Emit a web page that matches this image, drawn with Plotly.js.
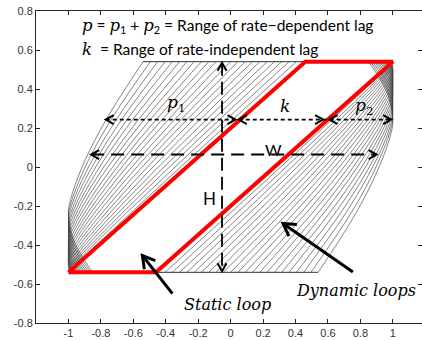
<!DOCTYPE html>
<html><head><meta charset="utf-8">
<script src="https://cdn.plot.ly/plotly-3.0.1.min.js"></script>
<style>html,body{margin:0;padding:0;background:#fff}#chart{width:422px;height:341px}</style>
</head><body><div id="chart"></div>
<script>
// tick labels
const xTickVals = [-1,-0.8,-0.6,-0.4,-0.2,0,0.2,0.4,0.6,0.8,1];
const xTickText = ['-1','-0.8','-0.6','-0.4','-0.2','0','0.2','0.4','0.6','0.8','1'];
const yTickVals = [-0.8,-0.6,-0.4,-0.2,0,0.2,0.4,0.6,0.8];
const yTickText = ['-0.8','-0.6','-0.4','-0.2','0','0.2','0.4','0.6','0.8'];

// static loop (red parallelogram)
const staticX = [-1, -0.46, 1, 0.46, -1];
const staticY = [-0.54, -0.54, 0.54, 0.54, -0.54];

// saturation envelope of the dynamic loops
const envTopX = [-0.54, 1];   const envTopY = [0.54, 0.54];
const envBotX = [-1, 0.54];   const envBotY = [-0.54, -0.54];

// dynamic loops: descending (upper-left) branch of each loop;
// the ascending (lower-right) branch is the point-symmetric image
const hatchX = [
 [0.405,-0.094,-0.447,-0.727,-0.893,-1],
 [0.36,-0.13,-0.474,-0.744,-0.901,-1],
 [0.315,-0.165,-0.5,-0.759,-0.908,-1],
 [0.27,-0.2,-0.525,-0.774,-0.915,-1],
 [0.225,-0.234,-0.549,-0.788,-0.922,-1],
 [0.18,-0.268,-0.573,-0.802,-0.928,-1,-0.997,-0.989],
 [0.135,-0.302,-0.596,-0.815,-0.934,-1,-0.996,-0.985],
 [0.09,-0.335,-0.618,-0.827,-0.94,-1,-0.995,-0.98],
 [0.045,-0.367,-0.64,-0.839,-0.945,-1,-0.994,-0.975],
 [0,-0.399,-0.661,-0.851,-0.95,-1,-0.992,-0.969],
 [-0.045,-0.431,-0.682,-0.862,-0.954,-1,-0.991,-0.963],
 [-0.09,-0.462,-0.702,-0.872,-0.958,-1,-0.989,-0.955],
 [-0.135,-0.492,-0.721,-0.882,-0.962,-1,-0.987,-0.948],
 [-0.18,-0.522,-0.74,-0.891,-0.966,-1,-0.985,-0.939],
 [-0.225,-0.552,-0.759,-0.9,-0.969,-1,-0.983,-0.93],
 [-0.27,-0.581,-0.776,-0.909,-0.972,-1,-0.98,-0.921],
 [-0.315,-0.61,-0.794,-0.917,-0.975,-1,-0.978,-0.91],
 [-0.36,-0.639,-0.81,-0.924,-0.978,-1,-0.975,-0.9],
 [-0.405,-0.667,-0.827,-0.932,-0.98,-1,-0.972,-0.888],
 [-0.45,-0.694,-0.842,-0.939,-0.983,-1,-0.969,-0.876],
 [-0.495,-0.722,-0.858,-0.945,-0.985,-1,-0.966,-0.863],
 [-0.54,-0.748,-0.873,-0.952,-0.987,-1,-0.963,-0.85]
];
const hatchY = [
 [0.54,0.163,-0.106,-0.322,-0.451,-0.537],
 [0.54,0.165,-0.103,-0.317,-0.446,-0.532],
 [0.54,0.168,-0.099,-0.312,-0.439,-0.524],
 [0.54,0.17,-0.094,-0.305,-0.432,-0.516],
 [0.54,0.174,-0.088,-0.297,-0.423,-0.506],
 [0.54,0.178,-0.082,-0.289,-0.413,-0.496,-0.518,-0.54],
 [0.54,0.182,-0.075,-0.28,-0.402,-0.484,-0.512,-0.54],
 [0.54,0.186,-0.067,-0.27,-0.391,-0.472,-0.506,-0.54],
 [0.54,0.19,-0.059,-0.259,-0.379,-0.459,-0.499,-0.54],
 [0.54,0.195,-0.051,-0.248,-0.366,-0.445,-0.493,-0.54],
 [0.54,0.2,-0.042,-0.236,-0.353,-0.43,-0.485,-0.54],
 [0.54,0.206,-0.033,-0.224,-0.339,-0.415,-0.478,-0.54],
 [0.54,0.211,-0.024,-0.211,-0.324,-0.399,-0.47,-0.54],
 [0.54,0.217,-0.014,-0.198,-0.309,-0.383,-0.461,-0.54],
 [0.54,0.223,-0.003,-0.184,-0.293,-0.366,-0.453,-0.54],
 [0.54,0.229,0.007,-0.17,-0.277,-0.348,-0.444,-0.54],
 [0.54,0.236,0.018,-0.156,-0.26,-0.329,-0.435,-0.54],
 [0.54,0.242,0.03,-0.14,-0.243,-0.311,-0.425,-0.54],
 [0.54,0.249,0.041,-0.125,-0.225,-0.291,-0.416,-0.54],
 [0.54,0.256,0.053,-0.109,-0.206,-0.271,-0.406,-0.54],
 [0.54,0.263,0.066,-0.093,-0.188,-0.251,-0.396,-0.54],
 [0.54,0.271,0.078,-0.076,-0.168,-0.23,-0.385,-0.54]
];

const traces = [];
const hatchLine = {shape:'spline', smoothing:1, width:0.6, color:'#333'};
for (let i = 0; i < hatchX.length; i++) {
  traces.push({x: hatchX[i], y: hatchY[i], mode:'lines', line: hatchLine, hoverinfo:'skip'});
  traces.push({x: hatchX[i].map(v => -v), y: hatchY[i].map(v => -v), mode:'lines', line: hatchLine, hoverinfo:'skip'});
}
traces.push({x: envTopX, y: envTopY, mode:'lines', line:{width:0.9, color:'#1a1a1a'}});
traces.push({x: envBotX, y: envBotY, mode:'lines', line:{width:0.9, color:'#1a1a1a'}});
traces.push({x: staticX, y: staticY, mode:'lines', line:{width:4, color:'#ff0000'}});

// ---- decoration geometry (pixels per data unit) ----
const XR = [-1.2, 1.18], YR = [-0.8, 0.8];
const L = 36, T = 11, W = 422, H = 341, PW = 386, PH = 312;
const PXX = PW/(XR[1]-XR[0]), PXY = PH/(YR[1]-YR[0]);
function chev(x, y, ang, len, half, w) {
  const r = ang*Math.PI/180, dx = Math.cos(r), dy = Math.sin(r);
  const bx = -dx*len, by = -dy*len, nx = -dy*half, ny = dx*half;
  const x1 = x + (bx+nx)/PXX, y1 = y + (by+ny)/PXY;
  const x2 = x + (bx-nx)/PXX, y2 = y + (by-ny)/PXY;
  return {type:'path', xref:'x', yref:'y', path:`M${x1},${y1} L${x},${y} L${x2},${y2}`, line:{color:'#000', width:w}};
}
function seg(x0,y0,x1,y1,dash,w){
  return {type:'line', xref:'x', yref:'y', x0:x0, y0:y0, x1:x1, y1:y1, line:{color:'#000', width:w, dash:dash}};
}
function angOf(tx,ty,hx,hy){ return Math.atan2((hy-ty)*PXY, (hx-tx)*PXX)*180/Math.PI; }

const shapes = [];
// p1 / k / p2 row
const yr = 0.243;
shapes.push(seg(-0.77, yr, 0.99, yr, '4px,3px', 1.6));
shapes.push(chev(-0.77, yr, 180, 8, 4.5, 2));
shapes.push(chev(0.03, yr, 0, 8, 4.5, 2));
shapes.push(chev(0.05, yr, 180, 8, 4.5, 2));
shapes.push(chev(0.57, yr, 0, 8, 4.5, 2));
shapes.push(chev(0.61, yr, 180, 8, 4.5, 2));
shapes.push(chev(0.99, yr, 0, 8, 4.5, 2));
// W row
const yw = 0.064;
shapes.push(seg(-0.86, yw, 0.9, yw, '13px,7px', 1.8));
shapes.push(chev(-0.86, yw, 180, 8, 4.5, 2));
shapes.push(chev(0.9, yw, 0, 8, 4.5, 2));
// H column
const xh = -0.053;
shapes.push(seg(xh, 0.535, xh, -0.535, '13px,6px', 1.8));
shapes.push(chev(xh, 0.535, 90, 8, 4.5, 2));
shapes.push(chev(xh, -0.535, -90, 8, 4.5, 2));
// solid pointer arrows
const sa = [-0.359,-0.649,-0.544,-0.454];
shapes.push(seg(sa[0],sa[1],sa[2],sa[3],'solid',3));
shapes.push(chev(sa[2],sa[3],angOf(...sa),12,7,3));
const da = [0.754,-0.538,0.323,-0.29];
shapes.push(seg(da[0],da[1],da[2],da[3],'solid',3));
shapes.push(chev(da[2],da[3],angOf(...da),12,7,3));

const serif = "'DejaVu Serif', 'Liberation Serif', serif";
const sans = "Lato, 'Liberation Sans', sans-serif";
const M = s => `<span style="font-family:${serif};font-size:16.5px"><i>${s}</i></span>`;
const annotations = [
  {xref:'x', yref:'y', x:-0.928, y:0.722, xanchor:'left', yanchor:'middle', showarrow:false,
   text: `${M('p')} = ${M('p')}<sub>1</sub> + ${M('p')}<sub>2</sub> = Range of rate\u2212dependent lag`,
   font:{family:sans, size:15.5, color:'#000'}},
  {xref:'x', yref:'y', x:-0.928, y:0.604, xanchor:'left', yanchor:'middle', showarrow:false,
   text: `${M('k')}  = Range of rate-independent lag`,
   font:{family:sans, size:15.5, color:'#000'}},
  {xref:'x', yref:'y', x:-0.335, y:0.327, showarrow:false, text:`<i>p</i><sub>1</sub>`, font:{family:serif, size:17, color:'#000'}},
  {xref:'x', yref:'y', x:0.336, y:0.311, showarrow:false, text:`<i>k</i>`, font:{family:serif, size:17, color:'#000'}},
  {xref:'x', yref:'y', x:0.825, y:0.31, showarrow:false, text:`<i>p</i><sub>2</sub>`, font:{family:serif, size:17, color:'#000'}},
  {xref:'x', yref:'y', x:0.262, y:0.09, showarrow:false, text:'W', font:{family:sans, size:16, color:'#000'}},
  {xref:'x', yref:'y', x:-0.132, y:-0.162, showarrow:false, text:'H', font:{family:sans, size:17, color:'#000'}},
  {xref:'x', yref:'y', x:-0.022, y:-0.705, showarrow:false, text:'<i>Static loop</i>', font:{family:serif, size:16, color:'#000'}},
  {xref:'x', yref:'y', x:0.391, y:-0.632, xanchor:'left', showarrow:false, text:'<i>Dynamic loops</i>', font:{family:serif, size:16, color:'#000'}}
];

const axisCommon = {showgrid:false, zeroline:false, showline:true, linecolor:'#262626', linewidth:1,
  mirror:'ticks', ticks:'inside', ticklen:4, tickcolor:'#262626', tickwidth:1,
  tickfont:{family:"'Liberation Sans', Arial, sans-serif", size:11, color:'#333'}, automargin:false, fixedrange:true};

const layout = {
  width: W, height: H, showlegend:false,
  paper_bgcolor:'#fff', plot_bgcolor:'#fff',
  margin:{l:L, r:W-L-PW, t:T, b:H-T-PH, pad:0},
  xaxis: Object.assign({}, axisCommon, {range:XR, tickmode:'array', tickvals:xTickVals, ticktext:xTickText}),
  yaxis: Object.assign({}, axisCommon, {range:YR, tickmode:'array', tickvals:yTickVals, ticktext:yTickText}),
  shapes: shapes, annotations: annotations
};
Plotly.newPlot('chart', traces, layout, {displayModeBar:false, staticPlot:true});
</script></body></html>
